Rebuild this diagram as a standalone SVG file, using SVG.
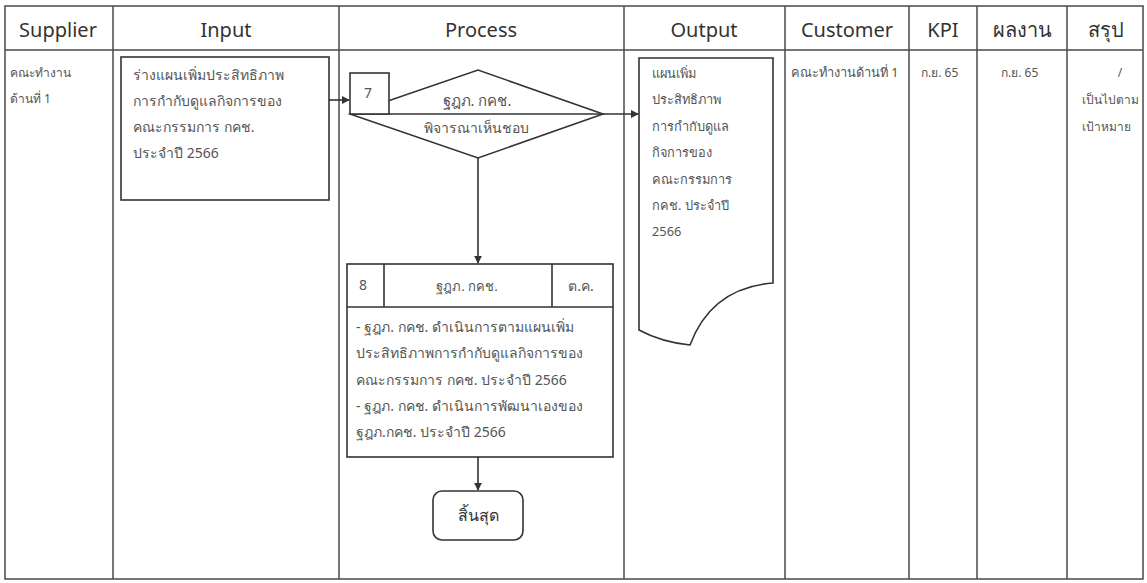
<svg xmlns="http://www.w3.org/2000/svg" width="1147" height="583" viewBox="0 0 1147 583">
<style>
.grid{stroke:#4a4a4a;stroke-width:1.5;fill:none}
.hd{font-family:"Noto Sans","Open Sans",sans-serif;font-size:20px;fill:#333;text-anchor:middle}
.t{font-family:"Noto Sans","Open Sans",sans-serif;font-size:12px;fill:#555}
.t14{font-family:"Noto Sans","Open Sans",sans-serif;font-size:14px;fill:#555}
.t13{font-family:"Noto Sans","Open Sans",sans-serif;font-size:12.8px;fill:#555}
.tc{font-family:"Noto Sans","Open Sans",sans-serif;font-size:14px;fill:#555;text-anchor:middle}
.shape{fill:#fff;stroke:#333;stroke-width:1.6}
.conn{stroke:#333;stroke-width:1.6;fill:none}
</style>
<defs>
<marker id="ah" viewBox="0 0 10 10" refX="9" refY="5" markerWidth="8" markerHeight="8" orient="auto" markerUnits="userSpaceOnUse">
<path d="M0,0 L10,5 L0,10 Z" fill="#333"/>
</marker>
</defs>
<rect width="1147" height="583" fill="#fff"/>
<g id="table">
<rect class="grid" x="5" y="6" width="1138" height="573"/>
<line class="grid" x1="5" y1="50" x2="1143" y2="50"/>
<line class="grid" x1="113" y1="6" x2="113" y2="579"/>
<line class="grid" x1="339" y1="6" x2="339" y2="579"/>
<line class="grid" x1="624" y1="6" x2="624" y2="579"/>
<line class="grid" x1="785" y1="6" x2="785" y2="579"/>
<line class="grid" x1="909" y1="6" x2="909" y2="579"/>
<line class="grid" x1="977" y1="6" x2="977" y2="579"/>
<line class="grid" x1="1067" y1="6" x2="1067" y2="579"/>
<text class="hd" x="58" y="37">Supplier</text>
<text class="hd" x="226" y="37">Input</text>
<text class="hd" x="481" y="37">Process</text>
<text class="hd" x="704" y="37">Output</text>
<text class="hd" x="847" y="37">Customer</text>
<text class="hd" x="943" y="37">KPI</text>
<text class="hd" x="1022" y="37">ผลงาน</text>
<text class="hd" x="1106" y="37">สรุป</text>
</g>
<g id="supplier">
<text class="t" x="10" y="77">คณะทำงาน</text>
<text class="t" x="10" y="103">ด้านที่ 1</text>
</g>
<g id="input">
<rect class="shape" x="121" y="57" width="208" height="143"/>
<text class="t14" x="133" y="80">ร่างแผนเพิ่มประสิทธิภาพ</text>
<text class="t14" x="133" y="106">การกำกับดูแลกิจการของ</text>
<text class="t14" x="133" y="132">คณะกรรมการ กคช.</text>
<text class="t14" x="133" y="158">ประจำปี 2566</text>
</g>
<g id="decision7">
<polygon class="shape" points="350,114 478,70 603,114 478,158"/>
<line class="conn" x1="350" y1="114" x2="603" y2="114"/>
<rect class="shape" x="350" y="73" width="39" height="41"/>
<text class="tc" x="368" y="98">7</text>
<text class="tc" x="477" y="106" style="font-size:15px">ฐฎภ. กคช.</text>
<text class="tc" x="476" y="133">พิจารณาเห็นชอบ</text>
</g>
<g id="output">
<path class="shape" d="M639,58 L773,58 L773,283 C735,286 705,305 690,345 C670,343 652,337 639,330 Z"/>
<text class="t13" x="652" y="78">แผนเพิ่ม</text>
<text class="t13" x="652" y="104">ประสิทธิภาพ</text>
<text class="t13" x="652" y="131">การกำกับดูแล</text>
<text class="t13" x="652" y="157">กิจการของ</text>
<text class="t13" x="652" y="184">คณะกรรมการ</text>
<text class="t13" x="652" y="210">กคช. ประจำปี</text>
<text class="t13" x="652" y="236">2566</text>
</g>
<g id="process8">
<rect class="shape" x="347" y="264" width="266" height="193"/>
<line class="conn" x1="347" y1="307" x2="613" y2="307"/>
<line class="conn" x1="384" y1="264" x2="384" y2="307"/>
<line class="conn" x1="552" y1="264" x2="552" y2="307"/>
<text class="tc" x="363" y="290">8</text>
<text class="tc" x="467" y="291" style="font-size:13px">ฐฎภ. กคช.</text>
<text class="tc" x="581" y="291">ต.ค.</text>
<text class="t14" x="356" y="332">- ฐฎภ. กคช. ดำเนินการตามแผนเพิ่ม</text>
<text class="t14" x="356" y="358">ประสิทธิภาพการกำกับดูแลกิจการของ</text>
<text class="t14" x="356" y="385">คณะกรรมการ กคช. ประจำปี 2566</text>
<text class="t14" x="356" y="411">- ฐฎภ. กคช. ดำเนินการพัฒนาเองของ</text>
<text class="t14" x="356" y="437">ฐฎภ.กคช. ประจำปี 2566</text>
</g>
<g id="end">
<rect class="shape" x="433" y="491" width="90" height="49" rx="9"/>
<text class="tc" x="478" y="521" style="font-size:16px;fill:#333">สิ้นสุด</text>
</g>
<g id="customer">
<text class="t13" x="791" y="77">คณะทำงานด้านที่ 1</text>
</g>
<g id="kpi">
<text class="t" x="921" y="77">ก.ย. 65</text>
</g>
<g id="result">
<text class="t" x="1001" y="77">ก.ย. 65</text>
</g>
<g id="summary">
<text class="tc" x="1120" y="77" style="font-size:12px">/</text>
<text class="t" x="1082" y="104">เป็นไปตาม</text>
<text class="t" x="1082" y="131">เป้าหมาย</text>
</g>
<g id="connectors">
<line class="conn" x1="329" y1="100" x2="349" y2="100" marker-end="url(#ah)"/>
<line class="conn" x1="603" y1="114" x2="638" y2="114" marker-end="url(#ah)"/>
<line class="conn" x1="478" y1="158" x2="478" y2="263" marker-end="url(#ah)"/>
<line class="conn" x1="478" y1="457" x2="478" y2="490" marker-end="url(#ah)"/>
</g>
</svg>
